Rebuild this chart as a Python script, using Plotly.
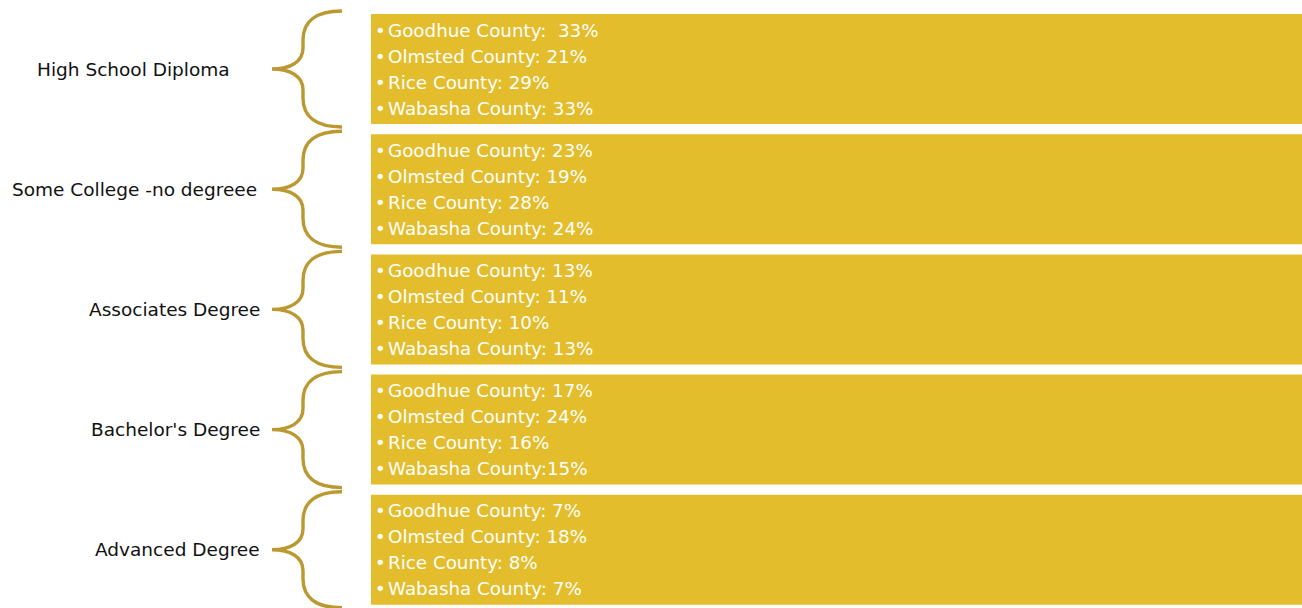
import plotly.graph_objects as go

categories = ["High School Diploma", "Some College -no degreee", "Associates Degree",
              "Bachelor's Degree", "Advanced Degree"]
counties = ["Goodhue County", "Olmsted County", "Rice County", "Wabasha County"]
values = [
    [33, 21, 29, 33],
    [23, 19, 28, 24],
    [13, 11, 10, 13],
    [17, 24, 16, 15],
    [7, 18, 8, 7],
]
# separators as printed in the original bullets
seps = [
    [":\u00a0\u00a0", ": ", ": ", ": "],
    [": ", ": ", ": ", ": "],
    [": ", ": ", ": ", ": "],
    [": ", ": ", ": ", ":"],
    [": ", ": ", ": ", ": "],
]

W, H = 1302, 608
BOX = "#E3BD2B"
BRACE = "#BB9830"
FONT = "DejaVu Sans"

label_x = [133, 134, 174, 175, 177]

fig = go.Figure()
shapes, annotations = [], []
step = 120.2
for i, cat in enumerate(categories):
    top = 14 + step * i
    bot = top + 110
    yc = (top + bot) / 2
    shapes.append(dict(type="rect", xref="x", yref="y", x0=371, x1=1302, y0=top, y1=bot,
                       fillcolor=BOX, line=dict(width=0), layer="below"))
    y0, y1 = yc - 58, yc + 58
    R, M, T = 342, 303, 272
    path = (f"M {R},{y0} C {R-27},{y0} {M},{y0+11} {M},{y0+29} "
            f"L {M},{yc-21} C {M},{yc-7} {M-13},{yc} {T},{yc} "
            f"C {M-13},{yc} {M},{yc+7} {M},{yc+21} "
            f"L {M},{y1-29} C {M},{y1-11} {R-27},{y1} {R},{y1}")
    shapes.append(dict(type="path", xref="x", yref="y", path=path,
                       line=dict(color=BRACE, width=3.4)))
    annotations.append(dict(x=label_x[i], y=yc, xref="x", yref="y", text=cat, showarrow=False,
                            xanchor="center", yanchor="middle",
                            font=dict(family=FONT, size=18.5, color="#111111")))
    for j, c in enumerate(counties):
        ty = top + 16 + 26 * j
        annotations.append(dict(x=380.5, y=ty, xref="x", yref="y", text="•", showarrow=False,
                                xanchor="center", yanchor="middle",
                                font=dict(family=FONT, size=18, color="white")))
        annotations.append(dict(x=386, y=ty, xref="x", yref="y",
                                text=f"{c}{seps[i][j]}{values[i][j]}%", showarrow=False,
                                xanchor="left", yanchor="middle",
                                font=dict(family=FONT, size=18.3, color="white")))

fig.update_layout(
    width=W, height=H, margin=dict(l=0, r=0, t=0, b=0),
    paper_bgcolor="white", plot_bgcolor="white",
    xaxis=dict(range=[0, W], visible=False, fixedrange=True),
    yaxis=dict(range=[H, 0], visible=False, fixedrange=True),
    shapes=shapes, annotations=annotations, showlegend=False,
)
fig.write_html("out.html",
               config={"displayModeBar": False, "staticPlot": True},
               post_script="document.body.style.margin='0';document.body.style.overflow='hidden';")
